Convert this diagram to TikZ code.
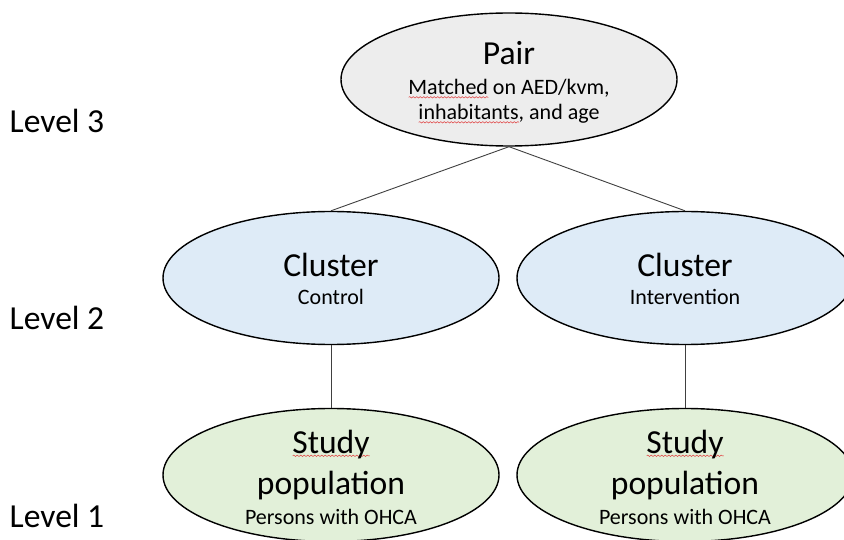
\documentclass[tikz,border=0pt]{standalone}
\usepackage{fontspec}
\setmainfont{Carlito}
\usetikzlibrary{shapes.geometric,decorations.pathmorphing}
\definecolor{pairfill}{HTML}{EDEDED}
\definecolor{clusterfill}{HTML}{DEEBF7}
\definecolor{studyfill}{HTML}{E2F0D9}
\definecolor{squigred}{HTML}{E03C3C}
\definecolor{linkgray}{HTML}{404040}
\newlength\sqwd
\newcommand\squig[1]{\setbox0=\hbox{#1}\sqwd=\wd0\relax\rlap{\tikz[baseline=0pt,x=1pt,y=1pt]\draw[squigline] (0,-2.8)--(\sqwd,-2.8);}\box0\relax}
\tikzset{squigline/.style={draw=squigred,line width=0.5pt,decorate,decoration={snake,amplitude=0.7pt,segment length=3.5pt}}}
\begin{document}
\begin{tikzpicture}[x=1pt,y=-1pt,
  oval/.style={ellipse,draw=black,line width=1.4pt,minimum width=336pt,minimum height=133pt,inner sep=0pt},
  big/.style={anchor=base,inner sep=0pt,font=\fontsize{33.6}{40}\selectfont},
  small/.style={anchor=base,inner sep=0pt,font=\fontsize{22}{26}\selectfont},
  lvl/.style={anchor=base west,inner sep=0pt,font=\fontsize{33.6}{40}\selectfont},
  link/.style={draw=linkgray,line width=0.9pt}]
\useasboundingbox (0,0) rectangle (844,540);
\clip (0,0) rectangle (844,540);
% ellipses
\node[oval,fill=pairfill] (pair) at (509,79.5) {};
\node[oval,fill=clusterfill] (ctrl) at (331,278) {};
\node[oval,fill=clusterfill] (intv) at (685,278) {};
\node[oval,fill=studyfill] (studyL) at (331,475) {};
\node[oval,fill=studyfill] (studyR) at (685,475) {};
% connectors
\draw[link] (pair.south) -- (ctrl.north);
\draw[link] (pair.south) -- (intv.north);
\draw[link] (ctrl.south) -- (studyL.north);
\draw[link] (intv.south) -- (studyR.north);
% texts
\node[big] (pairT) at (509,64.5) {Pair};
\node[small] (pairA) at (509,94.5) {\squig{Matched} on AED/kvm,};
\node[small] (pairB) at (509,119.5) {\squig{inhabitants}, and age};
\node[big] (ctrlT) at (331,277) {Cluster};
\node[small] (ctrlS) at (331,305) {Control};
\node[big] (intvT) at (685,277) {Cluster};
\node[small] (intvS) at (685,305) {Intervention};
\node[big] (studyLA) at (331,453) {\squig{Study}};
\node[big] (studyLB) at (331,494) {population};
\node[small] (studyLC) at (331,524) {Persons with OHCA};
\node[big] (studyRA) at (685,453) {\squig{Study}};
\node[big] (studyRB) at (685,494) {population};
\node[small] (studyRC) at (685,524) {Persons with OHCA};
% levels
\node[lvl] (lv3) at (9.5,133) {Level 3};
\node[lvl] (lv2) at (9.5,330) {Level 2};
\node[lvl] (lv1) at (9.5,527) {Level 1};
\end{tikzpicture}
\end{document}
